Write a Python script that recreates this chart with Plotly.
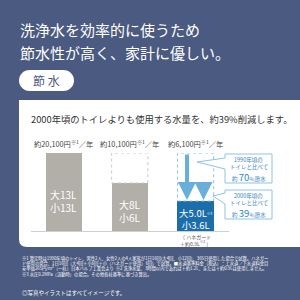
import numpy as np
import plotly.graph_objects as go

# ---- data ----
categories = ["1990年頃", "2000年頃", "現在"]
large_flush = [13, 8, 5.0]
small_flush = [13, 6, 3.6]
annual_cost = ["約20,100円", "約10,100円", "約6,100円"]
bar_labels = ["大13L<br>小13L", "大8L<br>小6L", "大5.0L<span style='font-size:5px'><sup>※3</sup></span><br>小3.6L"]
saving_vs = ["1990年頃の", "2000年頃の"]
saving_pct = ["70", "39"]

W = H = 300
FONT = "Noto Sans CJK JP"
NAVY = "#4b5a80"
GRAY = "#b2aea8"
BLUE = "#1c6eab"
LBLUE = "#8ec3e3"
TXTBLUE = "#3c84bc"

def X(x):
    return x / W

def Y(y):
    return 1 - y / H

xs = list(range(len(categories)))
bar_w = 0.55
colors = [GRAY, GRAY, BLUE]

fig = go.Figure()
fig.add_trace(go.Bar(x=xs, y=large_flush, width=bar_w, marker=dict(color=colors, line=dict(width=0)),
                     hoverinfo="skip", showlegend=False))

shapes = []
annotations = []

# white panel with rounded bottom-left corner
x0, x1, y0, y1, r = 19, 300, 100, 247, 8
shapes.append(dict(type="path", xref="paper", yref="paper", layer="below",
                   path=f"M {X(x0)},{Y(y0)} L {X(x1)},{Y(y0)} L {X(x1)},{Y(y1)} L {X(x0+r)},{Y(y1)} "
                        f"Q {X(x0)},{Y(y1)} {X(x0)},{Y(y1-r)} Z",
                   fillcolor="white", line=dict(width=0)))

# badge pill
bx0, bx1, by0, by1 = 19, 74, 70, 91
br = (by1 - by0) / 2
pts = []
for a in np.linspace(-np.pi/2, np.pi/2, 20):
    pts.append((bx1 - br + br*np.cos(a), (by0+by1)/2 + br*np.sin(a)))
for a in np.linspace(np.pi/2, 3*np.pi/2, 20):
    pts.append((bx0 + br + br*np.cos(a), (by0+by1)/2 + br*np.sin(a)))
path = "M " + " L ".join(f"{X(px)},{Y(py)}" for px, py in pts) + " Z"
shapes.append(dict(type="path", xref="paper", yref="paper", path=path, fillcolor="white", line=dict(width=0)))
annotations.append(dict(x=X((bx0+bx1)/2), y=Y((by0+by1)/2), xref="paper", yref="paper", text="節 水",
                        showarrow=False, font=dict(family=FONT, size=12, color=NAVY), xanchor="center", yanchor="middle"))

# title
for txt, yy in [("洗浄水を効率的に使うため", 30), ("節水性が高く、家計に優しい。", 52)]:
    annotations.append(dict(x=X(18), y=Y(yy), xref="paper", yref="paper", text=txt, showarrow=False,
                            font=dict(family=FONT, size=15, color="white"), xanchor="left", yanchor="middle"))

# headline
annotations.append(dict(x=X(29), y=Y(119), xref="paper", yref="paper",
                        text="2000年頃のトイレよりも使用する水量を、約39%削減します。", showarrow=False,
                        font=dict(family=FONT, size=9.3, color="#333"), xanchor="left", yanchor="middle"))

# dashed outlines showing 1990 level (and 2000 level in last bar)
top = large_flush[0]
for i in (1, 2):
    shapes.append(dict(type="rect", xref="x", yref="y", x0=xs[i]-bar_w/2, x1=xs[i]+bar_w/2, y0=large_flush[i], y1=top,
                       line=dict(color="#c8c8c8" if i == 1 else LBLUE, width=1, dash="dot"), fillcolor="rgba(0,0,0,0)"))
shapes.append(dict(type="line", xref="x", yref="y", x0=xs[2]-bar_w/2, x1=xs[2]+bar_w/2, y0=large_flush[1], y1=large_flush[1],
                   line=dict(color=LBLUE, width=1, dash="dot")))

# cost labels
for i in xs:
    annotations.append(dict(x=xs[i], y=Y(143), xref="x", yref="paper",
                            text=f"{annual_cost[i]}<sup>※1</sup>／年", showarrow=False,
                            font=dict(family=FONT, size=7.3, color="#444"), xanchor="center", yanchor="middle"))

# bar labels
label_y = [200.5, 210.5, 218.5]
label_size = [10, 10, 9.5]
for i in xs:
    annotations.append(dict(x=xs[i], y=Y(label_y[i]), xref="x", yref="paper", text=bar_labels[i], showarrow=False,
                            font=dict(family=FONT, size=label_size[i], color="white"), xanchor="center", yanchor="middle"))

# arrows
for xa, yfrom in [(xs[2]-0.13, large_flush[0]), (xs[2]+0.12, large_flush[1])]:
    annotations.append(dict(x=xa, y=large_flush[2]+0.15, ax=xa, ay=yfrom, xref="x", yref="y", axref="x", ayref="y",
                            text="", showarrow=True, arrowhead=2, arrowsize=0.9, arrowwidth=4, arrowcolor="#6aaedb",
                            standoff=0))

# callout boxes
boxes = [(154, 183, (197, 162), 158, 169), (190, 219, (213, 196), 193, 204)]
for k, (t, b, apex, e0, e1) in enumerate(boxes):
    lx, rx = 225, 272
    p = (f"M {X(lx)},{Y(t)} L {X(rx)},{Y(t)} L {X(rx)},{Y(b)} L {X(lx)},{Y(b)} L {X(lx)},{Y(e1)} "
         f"L {X(apex[0])},{Y(apex[1])} L {X(lx)},{Y(e0)} Z")
    shapes.append(dict(type="path", xref="paper", yref="paper", path=p, fillcolor="white",
                       line=dict(color=LBLUE, width=1)))
    cx = (lx + rx) / 2
    annotations.append(dict(x=X(cx), y=Y(t+6), xref="paper", yref="paper", text=saving_vs[k], showarrow=False,
                            font=dict(family=FONT, size=5.5, color=TXTBLUE), xanchor="center", yanchor="middle"))
    annotations.append(dict(x=X(cx), y=Y(t+13), xref="paper", yref="paper", text="トイレと比べて", showarrow=False,
                            font=dict(family=FONT, size=5.5, color=TXTBLUE), xanchor="center", yanchor="middle"))
    annotations.append(dict(x=X(cx), y=Y(t+23), xref="paper", yref="paper",
                            text=f"約 <span style='font-size:9.5px;color:#2a88cc'>{saving_pct[k]}</span>％節水",
                            showarrow=False, font=dict(family=FONT, size=5.5, color=TXTBLUE), xanchor="center", yanchor="middle"))

# hanegard note
annotations.append(dict(x=xs[2], y=Y(240), xref="x", yref="paper", text="（ ハネガード<br>＋約0.9L<sup>※2</sup> ）",
                        showarrow=False, font=dict(family=FONT, size=5, color="#555"), xanchor="center", yanchor="middle"))

# footnotes
notes = [
    "※1 算定時は1990年頃のトイレ、男性2人、女性2人の4人家族が1日16回(大4回、小12回)、365日使用した場合で試算。ハネガー",
    "ド使用の場合、1日16回（大4回＋小6回＋小（ハネガード使用）6回）で試算。■水道基準料金（税込）：上水道／下水道料金目",
    "安単価265円/m³（一社）日本バルブ工業会より  ※2 洗浄水量、3時間以内であれば＋約1.2L、または＋約0.9Lは使用しません。",
    "※3 水圧0.2MPa（流動時）の場合。その他各社基準に基づき算出。",
]
for j, n in enumerate(notes):
    annotations.append(dict(x=X(20), y=Y(258 + 5.4*j), xref="paper", yref="paper", text=n, showarrow=False,
                            font=dict(family=FONT, size=4.3, color="white"), xanchor="left", yanchor="middle"))
annotations.append(dict(x=X(20), y=Y(293), xref="paper", yref="paper", text="◎写真やイラストはすべてイメージです。",
                        showarrow=False, font=dict(family=FONT, size=5.5, color="white"), xanchor="left", yanchor="middle"))

fig.update_layout(
    width=W, height=H, margin=dict(l=0, r=0, t=0, b=0),
    paper_bgcolor=NAVY, plot_bgcolor="rgba(0,0,0,0)",
    shapes=shapes, annotations=annotations, bargap=0,
    xaxis=dict(domain=[X(31), X(228.5)], range=[-0.5, 2.5], showgrid=False, zeroline=False, showticklabels=False,
               showline=True, linecolor="#cfcfcf", linewidth=1, ticks="", fixedrange=True),
    yaxis=dict(domain=[Y(231), Y(153)], range=[0, 13], showgrid=False, zeroline=False, showticklabels=False,
               showline=False, ticks="", fixedrange=True),
    font=dict(family=FONT),
)

fig.write_html("out.html", config={"displayModeBar": False})
